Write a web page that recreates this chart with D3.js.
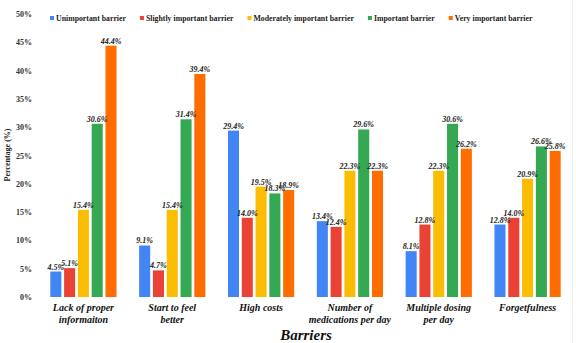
<html>
<head>
  <script src="https://d3js.org/d3.v7.min.js"></script>
  <style>
    body { margin: 0; background: #fff; }
    svg text { font-family: "Liberation Serif", "Times New Roman", Times, "DejaVu Serif", serif; font-weight: bold; }
  </style>
</head>
<body>
  <svg id="chart" width="576" height="343"></svg>
  <script>
    var categories = [
      ["Lack of proper", "informaiton"],
      ["Start to feel", "better"],
      ["High costs"],
      ["Number of", "medications per day"],
      ["Multiple dosing", "per day"],
      ["Forgetfulness"]
    ];
    var seriesNames = ["Unimportant barrier", "Slightly important barrier", "Moderately important barrier",
      "Important barrier", "Very important barrier"];
    var colors = ["#4285F4", "#EA4335", "#FBBC04", "#34A853", "#FF6D01"];
    var unimportant = [4.5, 9.1, 29.4, 13.4, 8.1, 12.8];
    var slightly = [5.1, 4.7, 14.0, 12.4, 12.8, 14.0];
    var moderately = [15.4, 15.4, 19.5, 22.3, 22.3, 20.9];
    var important = [30.6, 31.4, 18.3, 29.6, 30.6, 26.6];
    var veryImportant = [44.4, 39.4, 18.9, 22.3, 26.2, 25.8];
    var yTicks = [0, 5, 10, 15, 20, 25, 30, 35, 40, 45, 50];

    var values = [unimportant, slightly, moderately, important, veryImportant];
    var svg = d3.select("#chart");
    var serif = '"Liberation Serif", "Times New Roman", Times, "DejaVu Serif", serif';

    var x0 = d3.scaleBand().domain(d3.range(categories.length)).range([39, 572]);
    var x1 = d3.scaleBand().domain(d3.range(seriesNames.length))
      .range([0, x0.bandwidth()]).paddingInner(0.2).paddingOuter(0.82);
    var y = d3.scaleLinear().domain([0, 50]).range([297, 14]);

    // faint frame on the right
    svg.append("line").attr("x1", 572.5).attr("x2", 572.5).attr("y1", 0).attr("y2", 343)
      .attr("stroke", "#eee");

    // y axis tick labels (no axis line)
    svg.append("g").selectAll("text").data(yTicks).enter().append("text")
      .attr("x", 32).attr("y", d => y(d) + 3)
      .attr("text-anchor", "end").attr("font-family", serif).style("font-size", "8px").attr("fill", "#333")
      .text(d => d + "%");

    svg.append("text")
      .attr("transform", "translate(10,155) rotate(-90)")
      .attr("text-anchor", "middle").attr("font-family", serif).style("font-size", "8px").attr("fill", "#222")
      .text("Percentage (%)");

    var groups = svg.append("g").selectAll("g").data(categories).enter().append("g")
      .attr("transform", (d, i) => "translate(" + x0(i) + ",0)");

    groups.each(function (c, ci) {
      var g = d3.select(this);
      var items = values.map((s, si) => ({ si: si, v: s[ci] }));
      g.selectAll("rect").data(items).enter().append("rect")
        .attr("x", d => x1(d.si)).attr("width", x1.bandwidth())
        .attr("y", d => y(d.v)).attr("height", d => y(0) - y(d.v))
        .attr("fill", d => colors[d.si]);
      g.selectAll("text.val").data(items).enter().append("text")
        .attr("class", "val")
        .attr("x", d => x1(d.si) + x1.bandwidth() / 2).attr("y", d => y(d.v) - 2)
        .attr("text-anchor", "middle").attr("font-family", serif)
        .style("font-size", "8px").style("font-style", "italic")
        .attr("fill", "#222")
        .text(d => d.v.toFixed(1) + "%");
      var lab = g.append("text").attr("text-anchor", "middle").attr("font-family", serif)
        .style("font-size", "10px").style("font-style", "italic").attr("fill", "#111");
      c.forEach((line, li) => {
        lab.append("tspan").attr("x", x0.bandwidth() / 2).attr("y", 311 + li * 12).text(line);
      });
    });

    svg.append("text").attr("x", 306).attr("y", 340).attr("text-anchor", "middle")
      .attr("font-family", serif)
      .style("font-size", "15px").style("font-style", "italic").attr("fill", "#111")
      .text("Barriers");

    // legend
    var lx = 50;
    seriesNames.forEach((name, i) => {
      svg.append("rect").attr("x", lx).attr("y", 16).attr("width", 4).attr("height", 4)
        .attr("fill", colors[i]);
      var t = svg.append("text").attr("x", lx + 6).attr("y", 21).attr("font-family", serif)
        .style("font-size", "7.8px").attr("fill", "#222").text(name);
      lx += 6 + t.node().getComputedTextLength() + 14;
    });
  </script>
</body>
</html>
